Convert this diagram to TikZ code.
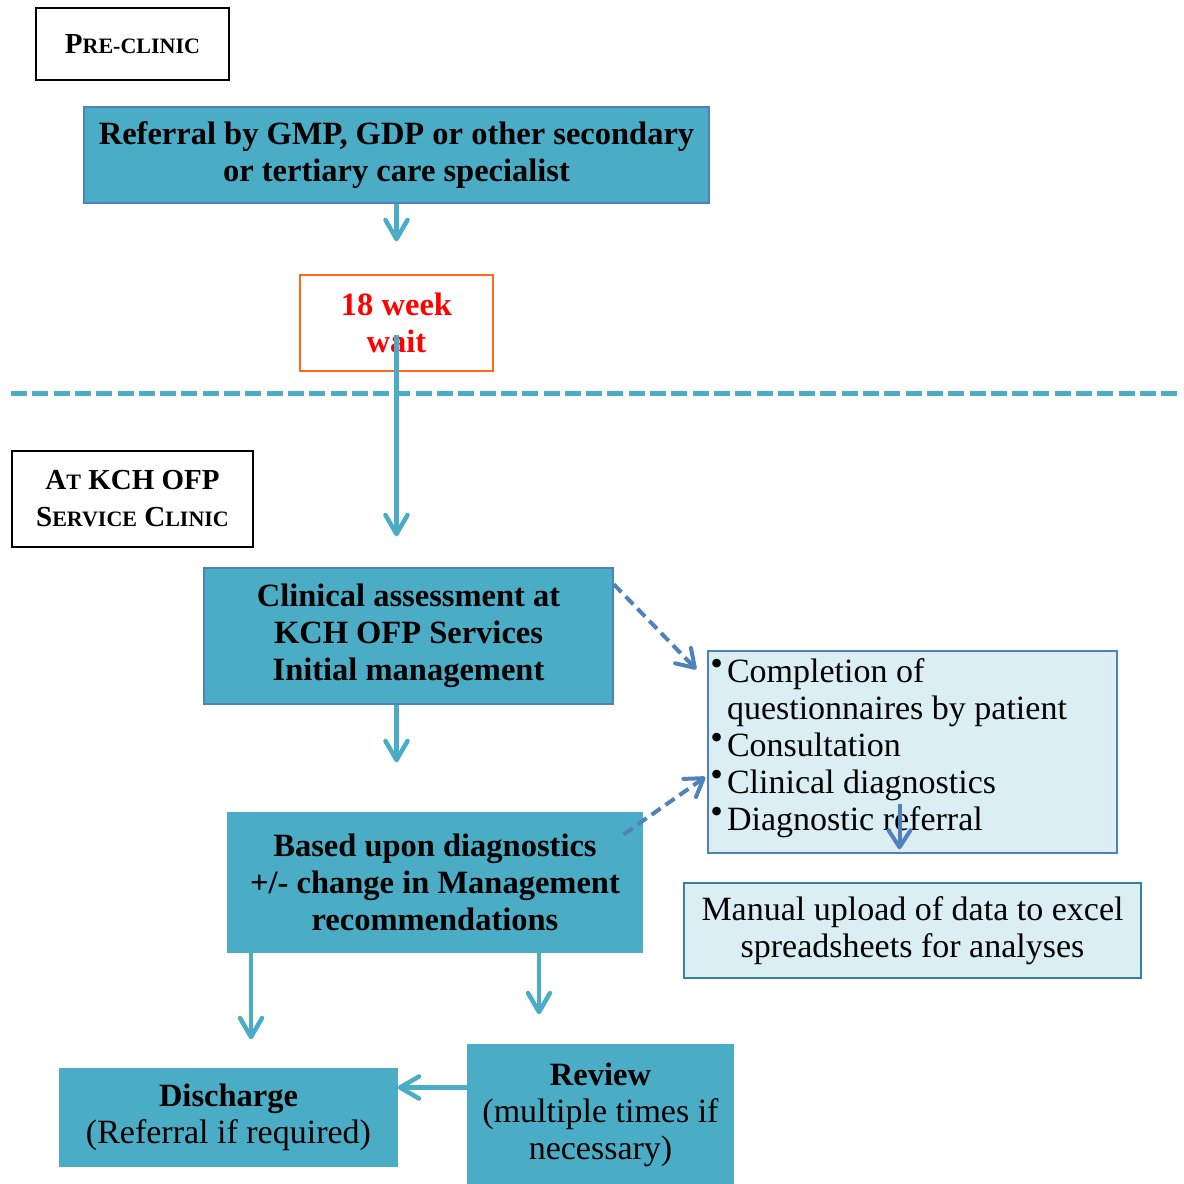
\documentclass[tikz,border=0pt]{standalone}
\usepackage{fontspec}
\setmainfont{Liberation Serif}
\usetikzlibrary{arrows.meta}

\definecolor{kchteal}{RGB}{75,172,198}
\definecolor{kchblue}{RGB}{79,129,189}
\definecolor{kchlight}{RGB}{219,238,244}
\definecolor{kchdteal}{RGB}{49,132,155}
\definecolor{kchorange}{RGB}{250,108,25}

\newcommand{\capsmall}[1]{{\fontsize{22}{37}\selectfont #1}}
\newcommand{\plaintext}[1]{{\fontsize{34}{37}\selectfont\mdseries #1}}
\newcommand{\bul}{\leavevmode\llap{\raisebox{7pt}{\fontsize{36}{36}\selectfont\textbullet}\hspace{4pt}}}

\begin{document}
\begin{tikzpicture}[x=1pt,y=-1pt,
    every node/.style={inner sep=0pt,align=center},
    labelbox/.style={draw=black,line width=2pt,font=\fontsize{29}{37}\selectfont\bfseries},
    stepbox/.style={fill=kchteal,draw=kchteal,line width=1.5pt,font=\fontsize{32.5}{37}\selectfont\bfseries},
    notebox/.style={fill=kchlight,line width=1.5pt,font=\fontsize{34}{37}\selectfont},
    flow/.style={draw=kchteal,line width=4.5pt,-{Straight Barb[length=19pt,width=22pt,round]}},
    dflow/.style={draw=kchblue,line width=4pt,dash pattern=on 11pt off 6pt,-{Straight Barb[length=17pt,width=22pt,round]}}]

    \useasboundingbox (0,0) rectangle (1184,1184);

    \node[labelbox,minimum width=193pt,minimum height=72pt] (preclinic) at (132.5,44) {P\capsmall{RE-CLINIC}};
    \node[stepbox,draw=kchblue,minimum width=625pt,minimum height=96pt] (referral) at (396.5,155) {Referral by GMP, GDP or other secondary\\or tertiary care specialist};
    \node[draw=kchorange,line width=1.5pt,minimum width=193pt,minimum height=96pt,text=red,font=\fontsize{32.5}{37}\selectfont\bfseries] (wait) at (396.5,323) {18 week\\wait};

    \draw[draw=kchteal,line width=5pt,dash pattern=on 16pt off 5.3pt] (11,393.5) -- (1180,393.5);

    \node[labelbox,minimum width=241pt,minimum height=96pt] (kchlabel) at (132.5,499) {A\capsmall{T} KCH OFP\\S\capsmall{ERVICE} C\capsmall{LINIC}};
    \node[stepbox,draw=kchblue,minimum width=409pt,minimum height=136pt] (assess) at (408.5,636) {Clinical assessment at\\KCH OFP Services\\Initial management};
    \node[notebox,draw=kchblue,minimum width=409pt,minimum height=202pt,text width=371pt,inner xsep=19pt,align=flush left] (tasks) at (912.5,752) {\bul Completion of\\questionnaires by patient\\\bul Consultation\\\bul Clinical diagnostics\\\bul Diagnostic referral\rule[-14pt]{0pt}{14pt}};
    \node[stepbox,minimum width=414pt,minimum height=139pt] (based) at (435,882.5) {Based upon diagnostics\\+/- change in Management\\recommendations};
    \node[notebox,draw=kchdteal,minimum width=457pt,minimum height=95pt] (upload) at (912.5,930.5) {Manual upload of data to excel\\spreadsheets for analyses};
    \node[stepbox,minimum width=337pt,minimum height=97pt] (discharge) at (228.5,1117.5) {Discharge\\\plaintext{(Referral if required)}};
    \node[stepbox,minimum width=265pt,minimum height=139pt] (review) at (600.5,1114.5) {Review\\\plaintext{(multiple times if}\\\plaintext{necessary)}};

    \draw[flow,shorten >=33pt] (referral) -- (wait);
    \draw[flow,shorten >=31pt] ([yshift=-12pt]wait.center) -- (wait.center |- assess.north);
    \draw[flow,shorten >=50pt] (assess.south -| wait.center) -- (based.north -| wait.center);
    \draw[dflow] ([yshift=-17pt]assess.north east) -- ([xshift=-11pt,yshift=-19pt]tasks.north west);
    \draw[dflow] ([xshift=-19pt,yshift=-22pt]based.north east) -- ([xshift=-2pt,yshift=-25pt]tasks.west);
    \draw[dflow,solid,shorten >=33pt] ([xshift=-13pt,yshift=78pt]upload.north) -- ([xshift=-13pt]upload.north);
    \draw[flow,shorten >=29pt] ([xshift=-184pt]based.south) -- ([xshift=-184pt]based.south |- discharge.north);
    \draw[flow,shorten >=30pt] ([xshift=104pt]based.south) -- ([xshift=104pt]based.south |- review.north);
    \draw[flow] ([yshift=27pt]review.west) -- ([yshift=27pt]review.west -| discharge.east);
\end{tikzpicture}
\end{document}
